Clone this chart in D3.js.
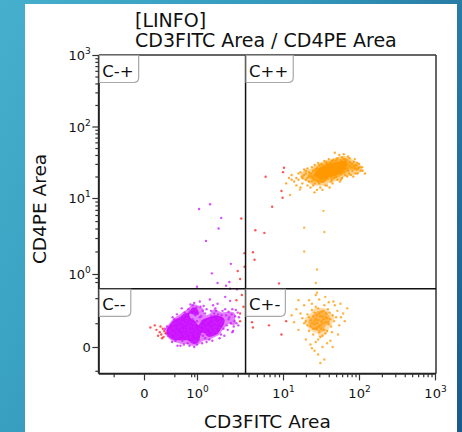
<!DOCTYPE html>
<html>
<head>
<meta charset="utf-8">
<script src="https://cdn.jsdelivr.net/npm/d3@7"></script>
<style>
html, body { margin: 0; padding: 0; }
body {
  width: 462px; height: 432px; overflow: hidden;
  background: linear-gradient(115deg, #45b0cd 0%, #3398bb 45%, #1b5a8a 100%);
}
svg { display: block; }
text { font-family: "DejaVu Sans", Verdana, sans-serif; fill: #111; }
</style>
</head>
<body>
<div id="draw"></div>
<script>
// titles and labels
var titleLines = ["[LINFO]", "CD3FITC Area / CD4PE Area"];
var xLabel = "CD3FITC Area";
var yLabel = "CD4PE Area";
var quadrantNames = ["C-+", "C++", "C--", "C+-"];

// gate positions (data units)
var gateCD3 = 3.7;
var gateCD4 = 0.66;
var xExtent = [-0.74, 1000];
var yExtent = [-0.23, 1000];

// ticks
var majorTicks = [0, 1, 10, 100, 1000];
var majorTickLabels = [["0", ""], ["10", "0"], ["10", "1"], ["10", "2"], ["10", "3"]];
var xMinorTicks = [-0.4, 0.4, 0.8, 0.9, 2, 3, 4, 5, 6, 7, 8, 9, 20, 30, 40, 50, 60, 70, 80, 90, 200, 300, 400, 500, 600, 700, 800, 900];
var yMinorTicks = [-0.2, 0.2, 0.5, 0.8, 0.9, 2, 3, 4, 5, 6, 7, 8, 9, 20, 30, 40, 50, 60, 70, 80, 90, 200, 300, 400, 500, 600, 700, 800, 900];

// events [CD3, CD4]
// CD3- CD4- (magenta)
var cd3NegEvents = [
  [0.35,0.12],[0.42,0.16],[0.51,0.09],[0.62,0.14],[0.74,0.18],[0.93,0.11],[1.08,0.15],[1.28,0.2],[1.48,0.13],[1.7,0.17],
  [0.38,0.19],[0.46,0.08],[0.56,0.21],[0.68,0.07],[0.82,0.13],[1.0,0.22],[1.18,0.09],[1.38,0.16],[1.6,0.21],[0.33,0.1],
  [0.44,0.13],[0.53,0.17],[0.65,0.19],[0.78,0.1],[0.9,0.16],[1.05,0.06],[1.22,0.14],[1.42,0.24],[1.55,0.1],[0.4,0.07],
  [0.49,0.22],[0.6,0.11],[0.71,0.14],[0.86,0.2],[0.97,0.09],[1.12,0.18],[1.32,0.11],[1.5,0.19],[0.37,0.16],[0.58,0.06],
  [0.67,0.23],[0.8,0.17],[0.95,0.14],[1.15,0.22],[1.25,0.07],[1.45,0.15],[1.65,0.13],[0.47,0.11],[0.55,0.14],[0.76,0.21],
  [0.88,0.05],[1.02,0.12],[1.2,0.17],[1.35,0.23],[0.63,0.09],[0.72,0.12],[0.84,0.24],[1.1,0.1],[1.3,0.16],[0.5,0.18],
  [0.92,0.19],[0.7,0.16],[1.4,0.09],[0.6,0.2],[1.75,0.2],[1.58,0.16],[0.43,0.2],[0.98,0.04],[1.08,0.26],[0.79,0.08],
  [0.38,0.11],[0.35,0.19],[0.42,0.05],[0.4,0.24],[0.33,0.14],[0.45,0.29],[0.46,0.01],[0.3,0.09],[0.28,0.17],[0.36,0.04],
  [1.6,0.3],[1.7,0.12],[1.8,0.25],[1.65,0.36],[1.9,0.19],[2.0,0.33],[2.1,0.09],[2.2,0.28],[1.75,0.42],[2.35,0.24],
  [2.5,0.2],[2.6,0.35],[2.8,0.27],[2.45,0.46],[3.0,0.31],[2.9,0.2],[2.15,0.52],[1.95,0.28],[1.55,0.4],[1.3,0.35],
  [1.1,0.38],[0.95,0.33],[0.85,0.4],[0.72,0.35],[0.62,0.31],[0.55,0.36],[1.2,0.39],[1.42,0.48],[0.98,0.37],[0.78,0.41],
  [0.6,0.02],[0.75,0.01],[0.9,0.0],[1.0,0.02],[0.82,0.04],[1.15,0.03],[0.7,0.03],[1.3,0.04],[0.52,0.01],[0.95,0.05],
  [1.52,0.05],[1.85,0.07],[2.3,0.14],[2.7,0.17],[1.62,0.21],[2.05,0.23],[1.47,0.33],[0.66,0.29],[0.88,0.3],[1.25,0.3],
  [1.35,0.17],[1.55,0.11],[1.7,0.2],[1.48,0.27],[1.62,0.14],[1.85,0.16],[2.0,0.21],[1.78,0.29],[2.25,0.18],[2.4,0.26],
  [1.92,0.1],[2.15,0.35],[1.58,0.24],[1.4,0.06],[1.12,0.27],[1.28,0.2],[0.43,0.09],[0.49,0.16],[0.39,0.15],[0.56,0.05],
  [0.51,0.25],[0.6,0.28],[0.34,0.08],[0.41,0.2],[0.37,0.26],[0.31,0.13],[0.27,0.11],[0.25,0.15],[1.03,0.31],[0.94,0.28],
  [1.17,0.33],[1.34,0.22],[1.68,0.33],[2.55,0.29],[2.75,0.22],[2.65,0.13],[2.85,0.34],[3.1,0.26],[2.35,0.32],[1.88,0.22],
  [0.76,0.32],[0.84,0.34],[0.69,0.25],[0.57,0.27],[1.08,0.45],[1.6,0.17],[2.05,0.15],[0.9,0.43],[2.6,0.12],[3.05,0.18]
];
// CD3- events scattered above the CD4 gate (magenta)
var cd3NegSparse = [
  [1.06,7.2],[1.43,8.3],[1.93,5.5],[1.8,4.0],[1.28,2.75],[1.5,1.02],[2.5,1.37],[2.4,0.8],[2.45,0.66],[2.95,0.65],
  [1.75,0.78],[1.0,0.7],[2.2,0.72]
];
// CD3+ CD4+ (orange)
var cd4PosEvents = [
  [36,23],[30,21],[42,25],[25,19],[50,26],[33,24],[28,18],[46,22],[39,27],[22,20],[55,28],[34,20],[44,24],[27,22],[60,25],
  [31,26],[38,19],[48,29],[24,17],[65,27],[35,22],[41,21],[29,24],[52,23],[37,28],[20,18],[58,30],[32,19],[45,26],[26,21],
  [70,26],[40,23],[34,17],[49,24],[23,22],[62,29],[36,25],[43,20],[28,23],[54,25],[38,22],[21,19],[47,27],[33,21],[57,24],
  [30,25],[68,31],[41,28],[27,20],[51,22],[35,26],[44,18],[19,21],[63,23],[39,24],[29,17],[53,30],[32,23],[46,25],[25,24],
  [75,28],[37,20],[42,23],[31,18],[56,27],[34,28],[48,21],[24,20],[66,25],[40,26],[36,18],[50,31],[28,26],[59,22],[43,27],
  [22,17],[45,23],[33,25],[72,24],[38,30],[30,20],[52,26],[26,18],[61,28],[35,21],[47,19],[41,24],[55,22],[18,19],[80,27],
  [37,24],[29,22],[44,29],[32,17],[50,24],[39,21],[64,30],[27,25],[58,26],[35,19],
  [14,17],[12,19],[11,16],[16,22],[15,15],[13,21],[17,14],[19,25],[21,15],[24,27],[20,24],[18,16],[23,14],[28,13],[31,14],
  [26,29],[29,31],[35,33],[40,35],[46,34],[52,36],[60,37],[68,34],[75,36],[85,32],[92,29],[98,26],[105,24],[90,22],[84,20],
  [78,21],[95,31],[110,27],[120,22],[88,35],[72,38],[55,40],[48,43],[63,41],[42,31],[30,29],[38,15],[45,16],[52,18],[60,19],
  [33,13],[26,12],[41,14],[56,17],[70,20],[82,24],[100,30],[66,33],
  [15,19],[17,23],[13,18],[21,26],[18,20],[25,15],[22,23],[32,30],[37,32],[44,33],[50,34],[58,33],[64,35],[76,32],[86,28],
  [94,25],[102,27],[80,30],[70,29],[62,32],[54,31],[47,30],[26,16],[30,16],[36,15],[43,17],[50,20],[58,18],[66,21],[74,22],
  [88,26],[112,24],[96,22],[20,22],[16,18]
];
// CD3+ CD4- (orange)
var cd4NegEvents = [
  [29,0.23],[24,0.2],[33,0.27],[27,0.15],[36,0.21],[22,0.26],[31,0.18],[26,0.31],[38,0.25],[30,0.12],[20,0.22],[34,0.33],
  [28,0.28],[25,0.1],[40,0.19],[32,0.22],[23,0.17],[35,0.14],[29,0.36],[21,0.29],[37,0.3],[27,0.24],[42,0.24],[24,0.34],
  [31,0.08],[33,0.2],[26,0.19],[45,0.28],[19,0.2],[30,0.3],[36,0.11],[28,0.16],[39,0.35],[22,0.13],[34,0.24],[25,0.27],
  [32,0.15],[43,0.17],[27,0.38],[29,0.06],[47,0.22],[23,0.23],[35,0.4],[31,0.27],[18,0.25],[38,0.13],[26,0.22],[41,0.31],
  [33,0.09],[28,0.2],[24,0.42],[30,0.17],[50,0.26],[21,0.18],[36,0.26],[32,0.32],[44,0.12],[27,0.04],[39,0.21],[25,0.15],
  [17,0.3],[16,0.14],[15,0.35],[14,0.21],[13,0.28],[52,0.33],[55,0.18],[58,0.26],[62,0.3],[48,0.4],[65,0.22],[70,0.36],
  [53,0.1],[46,0.45],[30,0.48],[22,0.47],[36,0.52],[27,0.55],[40,0.44],[19,0.4],[33,0.0],[26,-0.03],[38,0.03],[23,0.02],
  [29,-0.06],[35,-0.1],[31,-0.13],[42,0.05],[20,0.06],[45,0.0],[28,0.59],[57,0.42],[16,0.47],[24,-0.01]
];
// CD3+ events between the two populations (orange)
var cd3PosSparse = [
  [34,6.8],[19,4.1],[35,3.6],[19,2.0],[28,1.15],[27,0.78],[12.4,11],[16.7,13.1]
];
// other events (red)
var otherEvents = [
  [0.18,0.12],[0.2,0.1],[0.22,0.15],[0.16,0.09],[0.24,0.13],[0.19,0.17],[0.21,0.07],[0.14,0.14],[0.26,0.11],[0.12,0.18],
  [0.07,0.16],[0.23,0.08],
  [3.3,5.4],[3.6,1.9],[3.6,1.25],[3.0,1.1],[3.2,0.87],[4.8,3.8],[4.5,1.95],[4.7,1.55],[10.3,26.5],[10,23],[6.3,19.8],
  [9.6,12.5],[9.9,10.1],[7.5,7.7],[6.1,3.5],[9.0,0.77],[4.4,0.21],[4.5,0.16],[6.9,0.18],[11,0.22],[9.6,0.1],[3.35,0.55],
  [2.9,0.47],[3.2,0.3],[3.5,0.38],[3.2,0.22]
];

window.onload = function () {
  var W = 462, H = 432;
  var svg = d3.select('#draw').append('svg').attr('width', W).attr('height', H);

  // white panel on the slide
  svg.append('rect').attr('x', 25).attr('y', 4).attr('width', 432).attr('height', 428).attr('fill', '#fff');

  // biexponential-like display: asinh transform, then piecewise linear scale
  var T = function (v) { return Math.asinh(v / 0.3) / Math.LN10; };
  function biexScale(lin) {
    var s = function (v) { return lin(T(v)); };
    s.copy = function () { return biexScale(lin.copy()); };
    s.range = function () { return lin.range(); };
    s.domain = function () { return lin.domain(); };
    return s;
  }
  var x = biexScale(d3.scaleLinear().domain([0, 1, 10, 1000].map(T)).range([144, 197, 283, 435]));
  var y = biexScale(d3.scaleLinear().domain([0, 1, 10, 1000].map(T)).range([347, 274, 198, 55]));

  var x0 = x(xExtent[0]), x1 = x(xExtent[1]) + 1;
  var y0 = y(yExtent[0]), y1 = y(yExtent[1]);

  svg.append('clipPath').attr('id', 'plotclip').append('rect')
    .attr('x', x0).attr('y', y1).attr('width', x1 - x0).attr('height', y0 - y1);
  var plot = svg.append('g').attr('clip-path', 'url(#plotclip)');

  // dense cores from kernel density, several levels
  function core(events, color, bw, levels) {
    var dens = d3.contourDensity()
      .x(function (d) { return x(d[0]); })
      .y(function (d) { return y(d[1]); })
      .size([W, H]).cellSize(1).bandwidth(bw).thresholds(50)(events);
    var maxV = d3.max(dens, function (c) { return c.value; });
    levels.forEach(function (lv) {
      var c = dens.filter(function (c) { return c.value >= maxV * lv[0]; })[0];
      if (c) plot.append('path').attr('d', d3.geoPath()(c)).attr('fill', color).attr('fill-opacity', lv[1]);
    });
  }
  core(cd3NegEvents, '#cc11ff', 3.5, [[0.42, 0.55], [0.55, 1]]);
  core(cd4PosEvents, '#ff9900', 3, [[0.3, 0.45], [0.45, 0.6], [0.62, 1]]);
  core(cd4NegEvents, '#ff9a10', 3, [[0.45, 0.35], [0.65, 0.6]]);

  function dots(events, color, op) {
    plot.append('g').selectAll('circle').data(events).enter().append('circle')
      .attr('cx', function (d) { return x(d[0]); })
      .attr('cy', function (d) { return y(d[1]); })
      .attr('r', 1.2)
      .attr('fill', color).attr('fill-opacity', op);
  }
  dots(cd3NegEvents, '#cc22ff', 0.8);
  dots(cd3NegSparse, '#cc22ff', 0.8);
  dots(cd4PosEvents, '#ff9900', 0.8);
  dots(cd4NegEvents, '#ff9900', 0.75);
  dots(cd3PosSparse, '#ff9900', 0.7);
  dots(otherEvents, '#ff2a2a', 0.8);

  // frame
  svg.append('line').attr('x1', x0).attr('x2', x1).attr('y1', y1).attr('y2', y1).attr('stroke', '#333').attr('stroke-width', 1.5);
  svg.append('line').attr('x1', x1).attr('x2', x1).attr('y1', y1).attr('y2', y0).attr('stroke', '#333').attr('stroke-width', 1.5);
  svg.append('line').attr('x1', x0).attr('x2', x1).attr('y1', y0).attr('y2', y0).attr('stroke', '#222').attr('stroke-width', 2);
  svg.append('line').attr('x1', x0).attr('x2', x0).attr('y1', y1).attr('y2', y0).attr('stroke', '#222').attr('stroke-width', 2);

  // gates
  svg.append('line').attr('x1', x(gateCD3)).attr('x2', x(gateCD3)).attr('y1', y1).attr('y2', y0).attr('stroke', '#111').attr('stroke-width', 1.5);
  svg.append('line').attr('x1', x0).attr('x2', x1).attr('y1', y(gateCD4)).attr('y2', y(gateCD4)).attr('stroke', '#111').attr('stroke-width', 1.5);

  // quadrant labels
  var quads = [
    { name: quadrantNames[0], qx: xExtent[0], qy: yExtent[1] },
    { name: quadrantNames[1], qx: gateCD3, qy: yExtent[1] },
    { name: quadrantNames[2], qx: xExtent[0], qy: gateCD4 },
    { name: quadrantNames[3], qx: gateCD3, qy: gateCD4 }
  ];
  quads.forEach(function (q) {
    var px = x(q.qx) + 0.5, py = y(q.qy) + 0.5;
    var g = svg.append('g');
    var box = g.append('path');
    var t = g.append('text').attr('x', px + 3).attr('y', py + 21).attr('font-size', 16.5).text(q.name);
    var w = t.node().getComputedTextLength() + 8, h = 27, r = 5;
    box.attr('d', 'M' + px + ',' + py + 'H' + (px + w) + 'V' + (py + h - r) +
      'Q' + (px + w) + ',' + (py + h) + ' ' + (px + w - r) + ',' + (py + h) + 'H' + px + 'Z')
      .attr('fill', '#fff').attr('stroke', '#a8a8a8').attr('stroke-width', 1.2);
  });

  // axes
  function styleAxis(g) {
    g.select('.domain').remove();
    g.selectAll('.tick line').attr('stroke', '#333').attr('stroke-width', 1.2);
  }
  function supLabel(textSel, i) {
    textSel.text(null);
    textSel.append('tspan').text(majorTickLabels[i][0]);
    if (majorTickLabels[i][1]) textSel.append('tspan').attr('dy', -6).attr('font-size', 9).text(majorTickLabels[i][1]);
  }
  var noLabel = function () { return ''; };

  var gxm = svg.append('g').attr('transform', 'translate(0,' + y0 + ')')
    .call(d3.axisBottom(x).tickValues(xMinorTicks).tickSize(3.5).tickFormat(noLabel));
  styleAxis(gxm);
  var gx = svg.append('g').attr('transform', 'translate(0,' + y0 + ')')
    .call(d3.axisBottom(x).tickValues(majorTicks).tickSize(6.5).tickFormat(noLabel));
  styleAxis(gx);
  gx.selectAll('.tick text').each(function (d, i) {
    var t = d3.select(this).attr('y', 24).attr('dy', null).attr('font-size', 13)
      .attr('font-family', '"DejaVu Sans", Verdana, sans-serif').attr('fill', '#111');
    supLabel(t, i);
  });

  var gym = svg.append('g').attr('transform', 'translate(' + x0 + ',0)')
    .call(d3.axisLeft(y).tickValues(yMinorTicks).tickSize(3.5).tickFormat(noLabel));
  styleAxis(gym);
  var gy = svg.append('g').attr('transform', 'translate(' + x0 + ',0)')
    .call(d3.axisLeft(y).tickValues(majorTicks).tickSize(6.5).tickFormat(noLabel));
  styleAxis(gy);
  gy.selectAll('.tick text').each(function (d, i) {
    var t = d3.select(this).attr('x', -8).attr('dy', null).attr('y', 4.5).attr('font-size', 13)
      .attr('text-anchor', 'end')
      .attr('font-family', '"DejaVu Sans", Verdana, sans-serif').attr('fill', '#111');
    supLabel(t, i);
  });

  // titles
  svg.append('text').attr('x', 135).attr('y', 27).attr('font-size', 19).text(titleLines[0]);
  svg.append('text').attr('x', 135).attr('y', 47).attr('font-size', 19).text(titleLines[1]);

  svg.append('text').attr('x', (x0 + x1) / 2).attr('y', 428).attr('font-size', 18.5)
    .attr('text-anchor', 'middle').text(xLabel);
  svg.append('text').attr('transform', 'translate(46,' + 209 + ') rotate(-90)')
    .attr('font-size', 18.5).attr('text-anchor', 'middle').text(yLabel);
};
</script>
</body>
</html>
